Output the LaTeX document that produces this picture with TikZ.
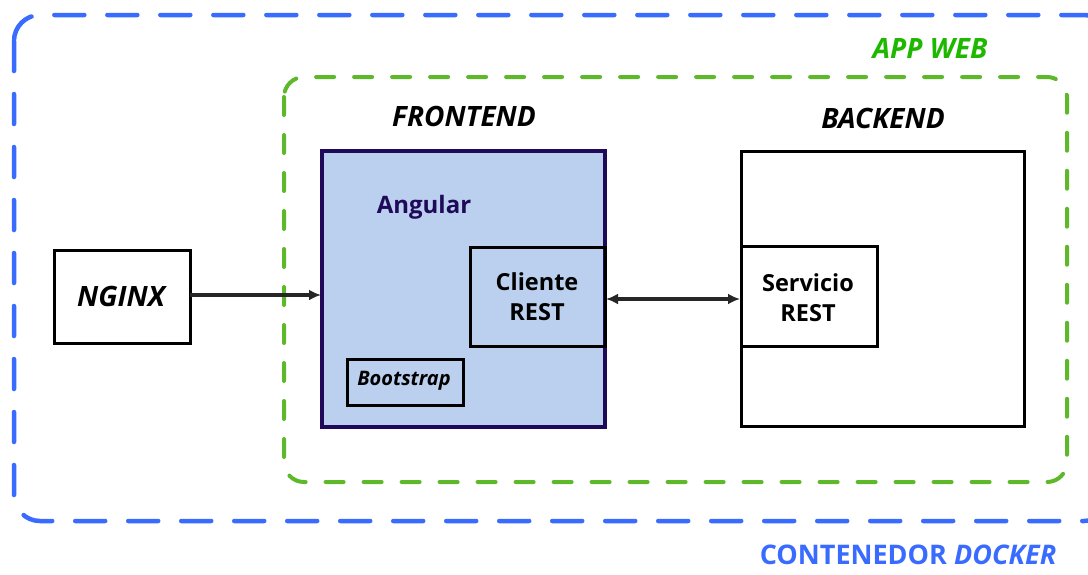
\documentclass[tikz,border=0pt]{standalone}
\usepackage{fontspec}
\setmainfont{Open Sans}
\usetikzlibrary{arrows.meta}
\definecolor{dockerblue}{HTML}{3A6BFF}
\definecolor{webgreen}{HTML}{5DB82A}
\definecolor{webgreentext}{HTML}{1FB800}
\definecolor{navy}{HTML}{1F0A5A}
\definecolor{feblue}{HTML}{BBD0EE}
\begin{document}
\begin{tikzpicture}[x=1pt,y=-1pt,
  box/.style={draw=black,line width=3pt,fill=white,inner sep=0pt},
  lbl/.style={font=\fontsize{28}{32}\selectfont\bfseries\itshape},
  btxt/.style={font=\fontsize{23.5}{30}\selectfont\bfseries,align=center},
  conn/.style={line width=3.2pt,draw=black!85}]
\useasboundingbox (0,0) rectangle (1088,574);
% docker container
\draw[dockerblue,line width=4.5pt,line cap=round,dash pattern=on 30pt off 23pt,rounded corners=26pt]
  (14,15) rectangle (1110,521);
\node[font=\fontsize{27}{31}\selectfont\bfseries,text=dockerblue,inner sep=0pt] (docker) at (908,555) {CONTENEDOR \textit{DOCKER}};
% app web
\draw[webgreen,line width=4pt,line cap=round,dash pattern=on 18pt off 20pt,rounded corners=20pt]
  (284,77) rectangle (1067,482);
\node[lbl,text=webgreentext] (appweb) at (930,48) {APP WEB};
% labels
\node[lbl] (frontlbl) at (464,116) {FRONTEND};
\node[lbl] (backlbl) at (883,118) {BACKEND};
% nginx
\draw[box] (54,250) rectangle (190,343);
\node[lbl] (nginx) at (121,296) {NGINX};
\coordinate (nginxE) at (190,295);
% frontend
\draw[draw=navy,fill=feblue,line width=3.5pt] (322,151) rectangle (605,427);
\coordinate (frontW) at (321,295);
\node[font=\fontsize{24}{28}\selectfont\bfseries,text=navy] (angular) at (424,207) {Angular};
\draw[draw=black,line width=3pt] (470,247) rectangle (605,346);
\node[btxt] (cliente) at (537,297) {Cliente\\REST};
\coordinate (clienteE) at (606,299);
\draw[draw=black,line width=3pt] (347,359) rectangle (463,405);
\node[font=\fontsize{20}{24}\selectfont\bfseries\itshape] (bootstrap) at (404,381) {Bootstrap};
% backend
\draw[box] (741,151) rectangle (1024,426);
\draw[box] (741,246) rectangle (877,346);
\node[btxt] (servicio) at (808,298) {Servicio\\REST};
\coordinate (servW) at (740,299);
% connectors
\draw[conn,-{Latex[length=12pt,width=11pt]}] (nginxE) -- (frontW);
\draw[conn,{Latex[length=12pt,width=11pt]}-{Latex[length=12pt,width=11pt]}] (clienteE) -- (servW);
\end{tikzpicture}
\end{document}
